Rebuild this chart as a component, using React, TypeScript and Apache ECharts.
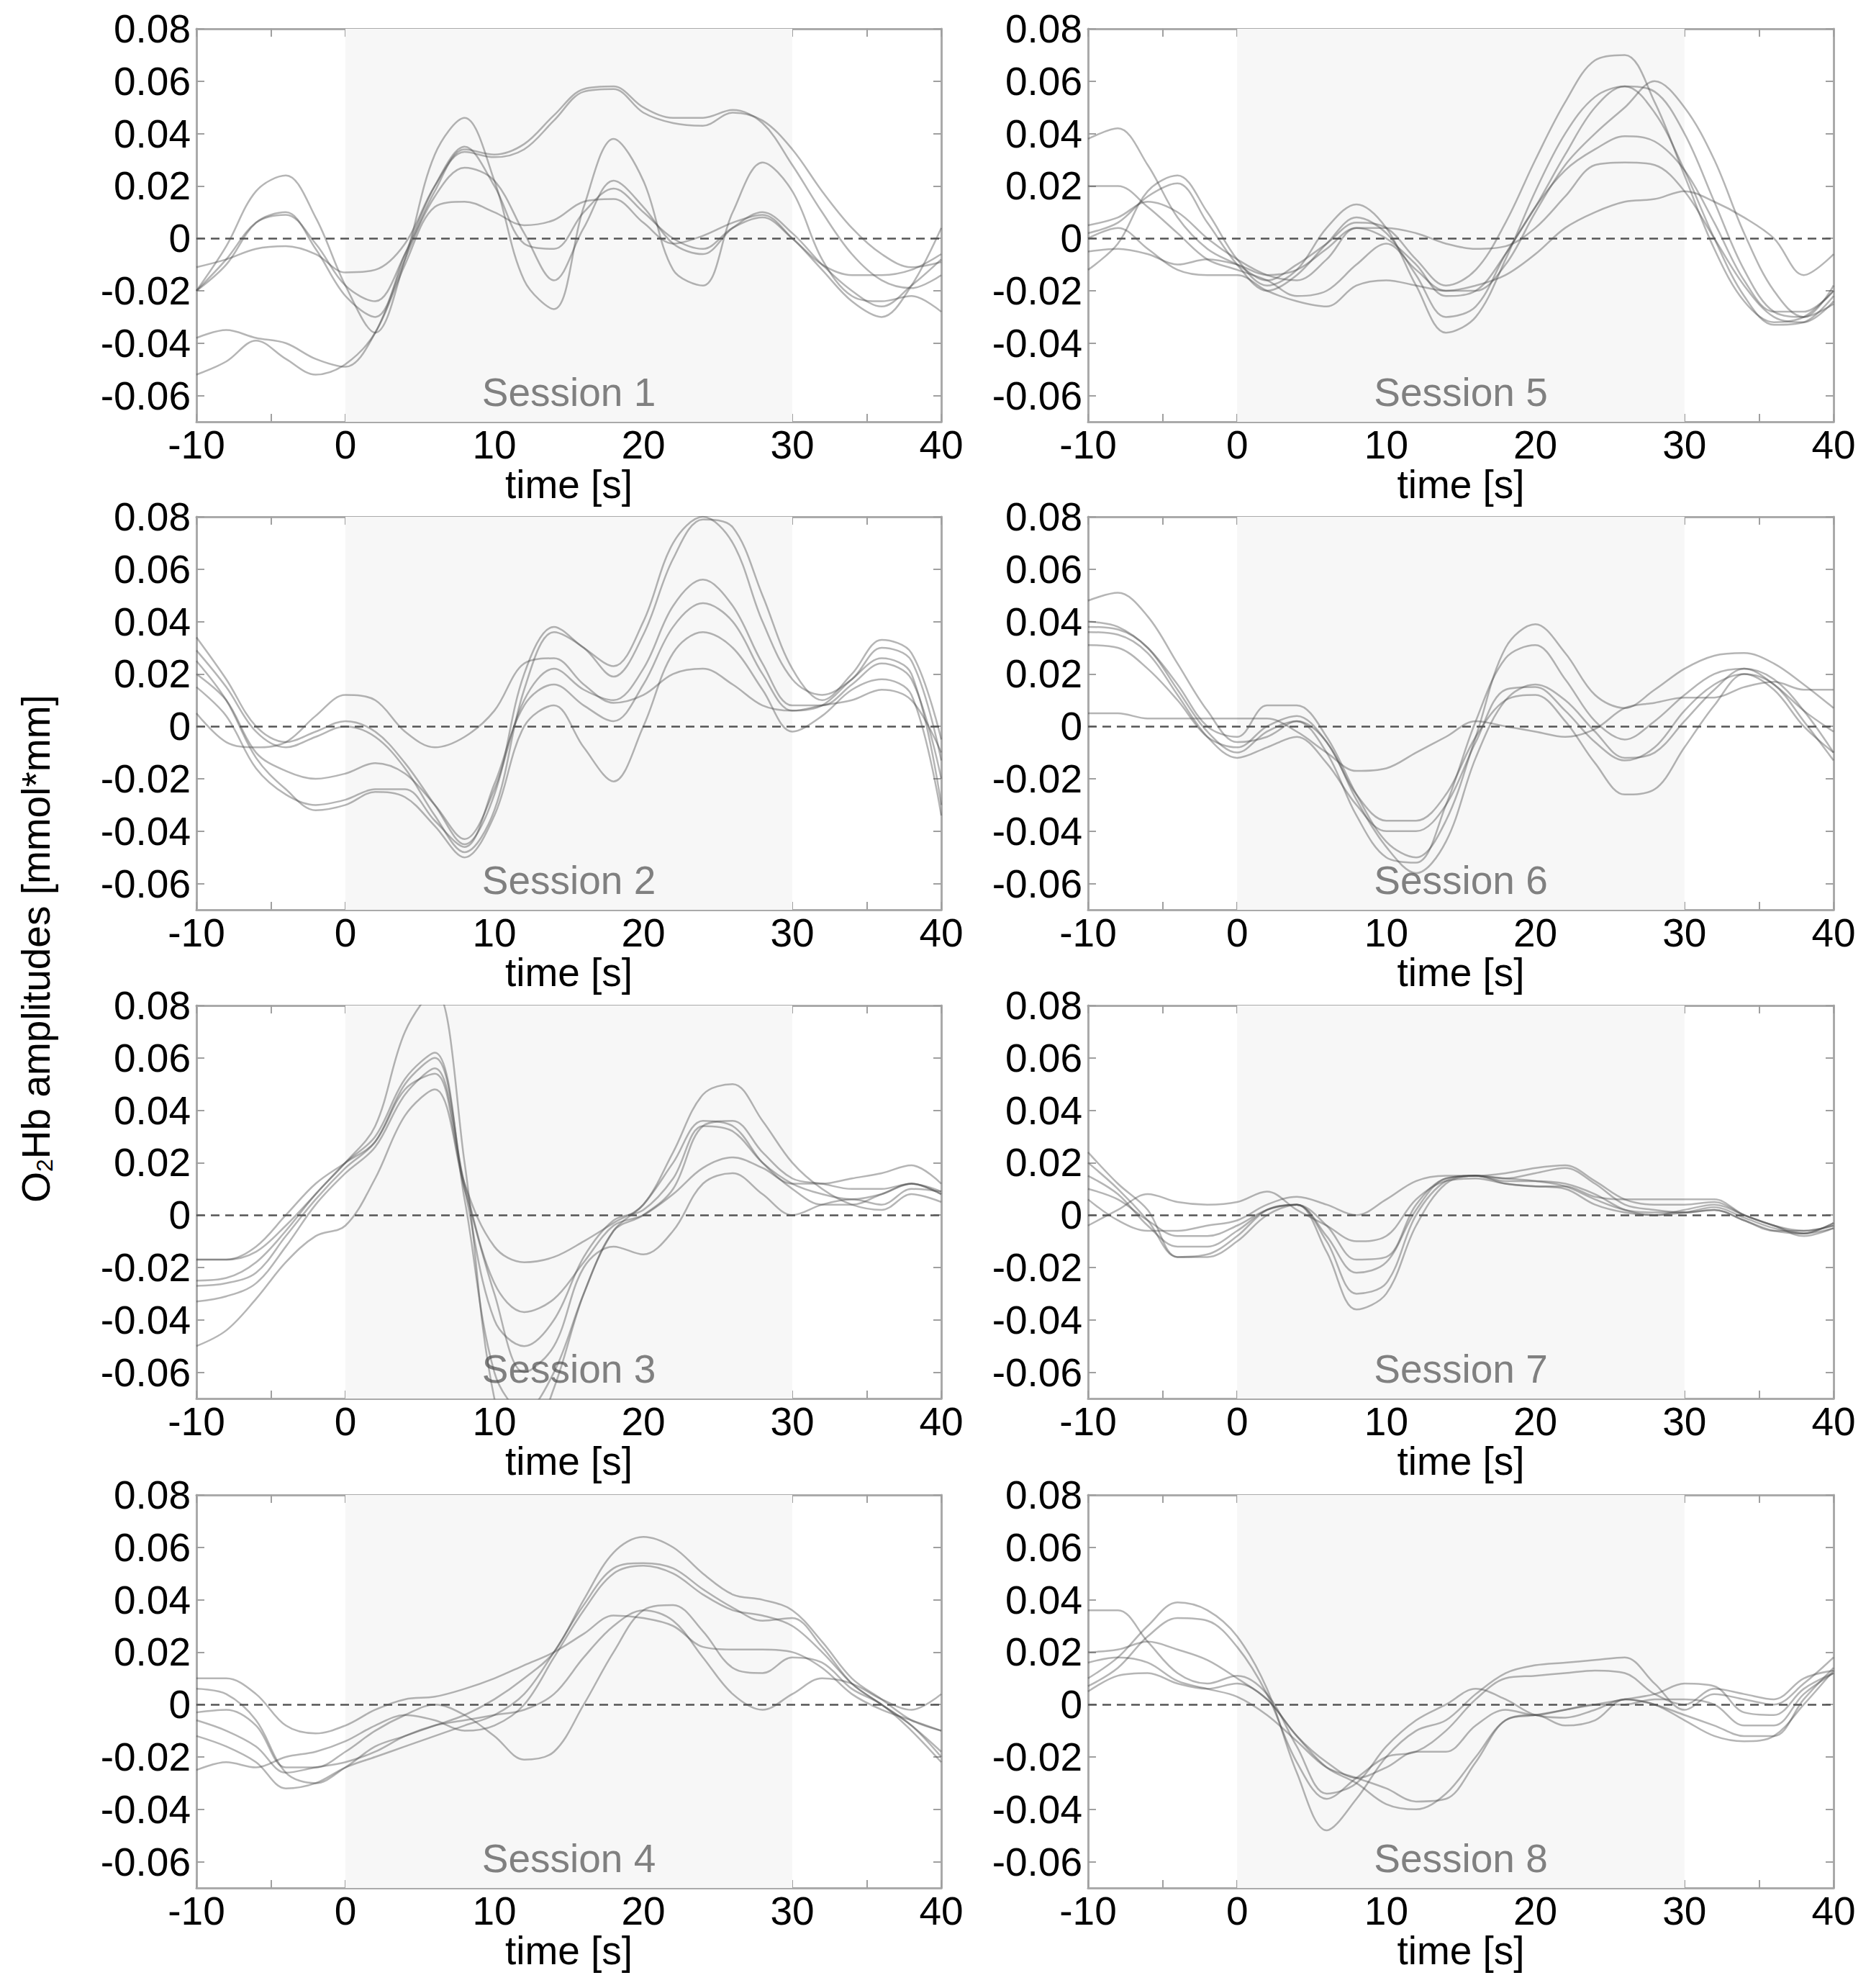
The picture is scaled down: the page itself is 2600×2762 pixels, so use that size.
import React, { useEffect, useRef } from "react";
import * as echarts from "echarts";

// ---------- data ----------
const TIME = [-10, -8, -6, -4, -2, 0, 2, 4, 6, 8, 10, 12, 14, 16, 18, 20, 22, 24, 26, 28, 30, 32, 34, 36, 38, 40];
const Y_TICKS = [-0.06, -0.04, -0.02, 0, 0.02, 0.04, 0.06, 0.08];
const X_MIN = -10;
const X_MAX = 40;
const Y_MIN = -0.07;
const Y_MAX = 0.08;
const STIMULUS = [0, 30];
const SESSION_LABELS = ["Session 1", "Session 2", "Session 3", "Session 4", "Session 5", "Session 6", "Session 7", "Session 8"];

const SESSION_1 = [
  [-0.011, -0.008, -0.004, -0.003, -0.006, -0.013, -0.012, -0.002, 0.020, 0.033, 0.031, 0.034, 0.045, 0.056, 0.057, 0.048, 0.044, 0.043, 0.048, 0.045, 0.034, 0.018, 0.004, -0.006, -0.011, -0.009],
  [-0.020, -0.008, 0.006, 0.009, -0.002, -0.018, -0.024, -0.006, 0.018, 0.034, 0.032, 0.036, 0.047, 0.057, 0.058, 0.050, 0.046, 0.046, 0.049, 0.044, 0.028, 0.010, -0.006, -0.016, -0.019, -0.014],
  [-0.020, -0.003, 0.018, 0.024, 0.008, -0.018, -0.036, -0.008, 0.032, 0.046, 0.022, -0.016, -0.027, 0.012, 0.038, 0.022, -0.012, -0.018, 0.010, 0.029, 0.018, -0.008, -0.022, -0.024, -0.022, -0.028],
  [-0.038, -0.035, -0.038, -0.040, -0.046, -0.049, -0.036, -0.008, 0.016, 0.027, 0.022, 0.002, -0.016, 0.004, 0.022, 0.012, -0.002, -0.006, 0.004, 0.010, 0.002, -0.010, -0.020, -0.026, -0.018, -0.008],
  [-0.052, -0.047, -0.039, -0.046, -0.052, -0.048, -0.036, -0.010, 0.012, 0.014, 0.010, 0.005, 0.007, 0.014, 0.015, 0.006, -0.002, 0.001, 0.006, 0.009, 0.000, -0.012, -0.024, -0.030, -0.018, 0.004],
  [-0.020, -0.010, 0.006, 0.010, -0.004, -0.022, -0.030, -0.006, 0.020, 0.035, 0.020, -0.002, -0.004, 0.010, 0.019, 0.010, 0.000, -0.004, 0.004, 0.008, 0.000, -0.010, -0.014, -0.014, -0.012, -0.006],
];

const SESSION_2 = [
  [0.034, 0.018, 0.000, -0.006, -0.002, 0.002, -0.002, -0.014, -0.030, -0.045, -0.026, 0.020, 0.038, 0.030, 0.023, 0.040, 0.070, 0.080, 0.070, 0.040, 0.018, 0.012, 0.018, 0.030, 0.025, -0.013],
  [0.029, 0.015, -0.002, -0.008, -0.004, 0.000, -0.004, -0.016, -0.034, -0.048, -0.032, 0.014, 0.036, 0.030, 0.019, 0.035, 0.064, 0.079, 0.076, 0.050, 0.022, 0.010, 0.020, 0.033, 0.028, -0.005],
  [0.020, 0.010, -0.010, -0.017, -0.020, -0.018, -0.014, -0.018, -0.030, -0.043, -0.024, 0.010, 0.022, 0.014, 0.010, 0.022, 0.046, 0.056, 0.046, 0.024, 0.008, 0.008, 0.016, 0.024, 0.018, -0.020],
  [0.015, 0.004, -0.016, -0.026, -0.030, -0.028, -0.024, -0.024, -0.036, -0.046, -0.022, 0.008, 0.016, 0.008, 0.002, 0.016, 0.038, 0.047, 0.040, 0.020, 0.006, 0.008, 0.018, 0.026, 0.020, -0.030],
  [0.025, 0.010, -0.012, -0.024, -0.032, -0.030, -0.025, -0.027, -0.038, -0.050, -0.034, 0.000, 0.008, -0.008, -0.021, 0.000, 0.028, 0.036, 0.030, 0.014, -0.002, 0.004, 0.014, 0.018, 0.012, -0.034],
  [0.005, -0.006, -0.008, -0.006, 0.004, 0.012, 0.010, -0.002, -0.008, -0.004, 0.006, 0.024, 0.026, 0.016, 0.009, 0.012, 0.020, 0.022, 0.016, 0.008, 0.006, 0.008, 0.010, 0.014, 0.010, -0.010],
];

const SESSION_3 = [
  [-0.025, -0.024, -0.018, -0.006, 0.008, 0.020, 0.034, 0.070, 0.086, 0.020, -0.070, -0.090, -0.066, -0.030, -0.006, 0.004, 0.020, 0.036, 0.034, 0.020, 0.010, 0.004, 0.004, 0.008, 0.012, 0.008],
  [-0.017, -0.017, -0.014, -0.004, 0.008, 0.020, 0.030, 0.052, 0.062, 0.006, -0.060, -0.075, -0.060, -0.030, -0.006, 0.000, 0.010, 0.034, 0.036, 0.024, 0.014, 0.012, 0.010, 0.010, 0.012, 0.009],
  [-0.027, -0.026, -0.022, -0.008, 0.006, 0.018, 0.028, 0.050, 0.060, 0.010, -0.040, -0.050, -0.040, -0.016, -0.002, 0.002, 0.014, 0.034, 0.032, 0.020, 0.012, 0.008, 0.006, 0.008, 0.012, 0.008],
  [-0.033, -0.031, -0.026, -0.012, 0.004, 0.016, 0.026, 0.046, 0.056, 0.012, -0.026, -0.037, -0.032, -0.018, -0.004, 0.000, 0.008, 0.018, 0.022, 0.018, 0.012, 0.012, 0.014, 0.016, 0.019, 0.012],
  [-0.017, -0.017, -0.012, 0.000, 0.012, 0.020, 0.028, 0.048, 0.054, 0.012, -0.012, -0.018, -0.016, -0.010, -0.003, 0.004, 0.024, 0.046, 0.050, 0.036, 0.020, 0.010, 0.004, 0.002, 0.008, 0.005],
  [-0.050, -0.044, -0.032, -0.018, -0.008, -0.004, 0.014, 0.038, 0.048, 0.010, -0.030, -0.060, -0.050, -0.020, -0.012, -0.015, -0.006, 0.012, 0.016, 0.008, 0.000, 0.004, 0.006, 0.004, 0.010, 0.009],
];

const SESSION_4 = [
  [0.006, 0.004, -0.006, -0.026, -0.030, -0.024, -0.016, -0.012, -0.008, -0.004, 0.002, 0.010, 0.020, 0.040, 0.058, 0.064, 0.060, 0.050, 0.042, 0.040, 0.036, 0.024, 0.010, 0.002, -0.006, -0.010],
  [0.010, 0.010, 0.004, -0.008, -0.011, -0.008, -0.002, 0.002, 0.003, 0.006, 0.010, 0.015, 0.020, 0.027, 0.034, 0.033, 0.030, 0.022, 0.021, 0.021, 0.020, 0.014, 0.004, -0.002, -0.006, -0.010],
  [-0.003, -0.002, -0.008, -0.024, -0.024, -0.018, -0.010, -0.004, 0.000, -0.004, -0.012, -0.021, -0.018, 0.000, 0.020, 0.036, 0.038, 0.028, 0.014, 0.012, 0.018, 0.016, 0.006, 0.000, -0.010, -0.022],
  [-0.006, -0.010, -0.016, -0.026, -0.024, -0.022, -0.018, -0.012, -0.008, -0.006, -0.004, -0.002, 0.004, 0.018, 0.030, 0.036, 0.032, 0.018, 0.004, -0.002, 0.004, 0.010, 0.008, 0.002, -0.002, 0.004],
  [-0.012, -0.016, -0.022, -0.032, -0.030, -0.024, -0.020, -0.016, -0.012, -0.008, -0.004, 0.004, 0.020, 0.038, 0.052, 0.054, 0.052, 0.044, 0.037, 0.032, 0.033, 0.022, 0.008, 0.000, -0.008, -0.020],
  [-0.025, -0.022, -0.024, -0.020, -0.018, -0.014, -0.008, -0.004, -0.006, -0.010, -0.008, 0.000, 0.018, 0.036, 0.050, 0.053, 0.050, 0.042, 0.036, 0.034, 0.030, 0.020, 0.008, 0.000, -0.008, -0.018],
];

const SESSION_5 = [
  [0.038, 0.042, 0.028, 0.008, -0.004, -0.010, -0.016, -0.010, -0.002, 0.006, 0.004, -0.008, -0.018, -0.012, 0.006, 0.030, 0.052, 0.068, 0.070, 0.052, 0.024, -0.004, -0.024, -0.032, -0.030, -0.020],
  [-0.012, -0.002, 0.018, 0.024, 0.010, -0.008, -0.018, -0.012, 0.004, 0.013, 0.004, -0.018, -0.036, -0.030, -0.008, 0.018, 0.040, 0.054, 0.058, 0.048, 0.026, 0.000, -0.022, -0.033, -0.032, -0.022],
  [0.002, 0.006, 0.016, 0.021, 0.006, -0.010, -0.020, -0.014, -0.002, 0.008, 0.002, -0.014, -0.030, -0.026, -0.006, 0.012, 0.032, 0.050, 0.058, 0.056, 0.040, 0.014, -0.012, -0.028, -0.030, -0.018],
  [0.020, 0.020, 0.012, 0.002, -0.008, -0.012, -0.016, -0.022, -0.020, -0.010, -0.002, -0.012, -0.020, -0.020, -0.010, 0.010, 0.028, 0.040, 0.050, 0.060, 0.050, 0.030, 0.002, -0.020, -0.030, -0.025],
  [0.005, 0.008, 0.014, 0.010, 0.000, -0.008, -0.014, -0.016, -0.008, 0.004, 0.000, -0.010, -0.022, -0.020, -0.006, 0.012, 0.026, 0.034, 0.039, 0.037, 0.026, 0.006, -0.016, -0.028, -0.028, -0.020],
  [-0.005, -0.004, -0.006, -0.010, -0.008, -0.010, -0.014, -0.012, -0.004, 0.004, 0.004, 0.002, -0.002, -0.004, -0.003, 0.004, 0.016, 0.028, 0.029, 0.028, 0.018, 0.000, -0.018, -0.030, -0.032, -0.024],
  [0.000, 0.004, -0.004, -0.012, -0.014, -0.014, -0.020, -0.024, -0.026, -0.018, -0.016, -0.018, -0.020, -0.018, -0.014, -0.006, 0.004, 0.010, 0.014, 0.015, 0.018, 0.014, 0.008, 0.000, -0.014, -0.006],
];

const SESSION_6 = [
  [0.048, 0.051, 0.042, 0.024, 0.006, -0.006, -0.004, 0.002, -0.010, -0.034, -0.050, -0.052, -0.030, 0.002, 0.026, 0.031, 0.018, 0.002, -0.005, 0.002, 0.012, 0.020, 0.022, 0.016, 0.006, -0.002],
  [0.040, 0.038, 0.030, 0.016, 0.000, -0.004, 0.008, 0.008, -0.004, -0.026, -0.044, -0.050, -0.036, -0.004, 0.030, 0.039, 0.028, 0.012, 0.007, 0.014, 0.022, 0.027, 0.028, 0.024, 0.016, 0.007],
  [0.038, 0.037, 0.030, 0.014, -0.002, -0.010, -0.002, 0.002, -0.006, -0.028, -0.046, -0.056, -0.044, -0.012, 0.010, 0.016, 0.010, -0.002, -0.012, -0.010, 0.002, 0.014, 0.022, 0.018, 0.006, -0.010],
  [0.036, 0.035, 0.028, 0.012, -0.004, -0.012, -0.008, -0.004, -0.014, -0.030, -0.040, -0.040, -0.030, -0.006, 0.014, 0.015, 0.006, -0.006, -0.013, -0.008, 0.006, 0.016, 0.020, 0.016, 0.002, -0.013],
  [0.031, 0.030, 0.022, 0.010, -0.004, -0.008, 0.000, 0.004, -0.006, -0.026, -0.036, -0.036, -0.026, -0.004, 0.010, 0.012, 0.002, -0.014, -0.026, -0.024, -0.008, 0.008, 0.020, 0.014, 0.000, -0.010],
  [0.005, 0.005, 0.003, 0.003, 0.003, 0.003, 0.003, -0.002, -0.010, -0.017, -0.016, -0.010, -0.004, 0.002, 0.000, -0.002, -0.004, -0.001, 0.007, 0.009, 0.011, 0.011, 0.015, 0.017, 0.014, 0.014],
];

const SESSION_7 = [
  [0.024, 0.012, 0.002, -0.016, -0.015, -0.008, 0.002, 0.004, -0.014, -0.036, -0.030, -0.004, 0.012, 0.015, 0.014, 0.013, 0.011, 0.006, 0.002, 0.001, 0.001, 0.002, -0.002, -0.006, -0.006, -0.004],
  [0.020, 0.010, -0.002, -0.016, -0.016, -0.010, 0.000, 0.004, -0.010, -0.030, -0.026, 0.000, 0.013, 0.015, 0.013, 0.013, 0.012, 0.008, 0.002, 0.000, 0.001, 0.003, -0.001, -0.005, -0.007, -0.005],
  [0.015, 0.008, -0.004, -0.012, -0.012, -0.006, 0.002, 0.004, -0.008, -0.022, -0.018, 0.002, 0.014, 0.015, 0.014, 0.016, 0.018, 0.012, 0.004, 0.002, 0.001, 0.002, -0.002, -0.006, -0.007, -0.003],
  [0.010, 0.006, -0.002, -0.008, -0.008, -0.004, 0.002, 0.004, -0.004, -0.017, -0.016, 0.004, 0.014, 0.015, 0.012, 0.011, 0.010, 0.004, 0.001, 0.000, 0.002, 0.004, 0.000, -0.004, -0.006, -0.004],
  [-0.004, 0.002, 0.008, 0.005, 0.004, 0.005, 0.009, 0.002, -0.004, -0.010, -0.008, 0.006, 0.013, 0.014, 0.012, 0.011, 0.011, 0.007, 0.006, 0.006, 0.006, 0.006, 0.000, -0.004, -0.007, -0.003],
  [0.006, -0.002, -0.006, -0.006, -0.004, -0.002, 0.004, 0.007, 0.004, 0.000, 0.006, 0.013, 0.015, 0.015, 0.016, 0.018, 0.019, 0.013, 0.006, 0.004, 0.004, 0.005, 0.000, -0.004, -0.008, -0.005],
];

const SESSION_8 = [
  [0.036, 0.036, 0.024, 0.012, 0.008, 0.011, 0.004, -0.016, -0.034, -0.030, -0.016, -0.006, 0.000, 0.006, 0.002, -0.004, -0.005, -0.002, 0.002, 0.000, -0.004, -0.008, -0.012, -0.012, 0.002, 0.014],
  [0.010, 0.018, 0.030, 0.039, 0.036, 0.026, 0.006, -0.026, -0.048, -0.036, -0.020, -0.010, -0.006, 0.004, 0.012, 0.015, 0.016, 0.017, 0.018, 0.008, -0.002, 0.004, 0.002, 0.000, 0.008, 0.018],
  [0.007, 0.014, 0.026, 0.033, 0.032, 0.022, 0.004, -0.022, -0.036, -0.028, -0.020, -0.018, -0.010, 0.002, 0.010, 0.011, 0.012, 0.013, 0.012, 0.004, 0.000, 0.006, 0.004, 0.002, 0.010, 0.013],
  [0.020, 0.021, 0.024, 0.021, 0.017, 0.010, 0.002, -0.012, -0.024, -0.030, -0.038, -0.040, -0.034, -0.020, -0.006, -0.004, -0.002, 0.000, 0.002, 0.004, 0.008, 0.007, -0.003, -0.004, 0.006, 0.012],
  [0.016, 0.018, 0.016, 0.009, 0.006, 0.003, -0.004, -0.014, -0.024, -0.028, -0.032, -0.037, -0.036, -0.022, -0.006, -0.004, -0.008, -0.006, 0.002, 0.000, -0.006, -0.012, -0.014, -0.012, 0.000, 0.013],
  [0.005, 0.011, 0.012, 0.008, 0.006, 0.008, 0.002, -0.012, -0.022, -0.028, -0.024, -0.018, -0.018, -0.008, -0.002, -0.004, -0.002, 0.000, 0.000, 0.002, 0.002, 0.000, -0.008, -0.008, 0.004, 0.012],
];

const SESSIONS = [SESSION_1, SESSION_2, SESSION_3, SESSION_4, SESSION_5, SESSION_6, SESSION_7, SESSION_8];

// ---------- layout / style ----------
const CHART_W = 2600;
const CHART_H = 2762;
const COL_LEFT = [273, 1512];
const COL_WIDTH = [1035, 1036];
const ROW_TOP = [40, 718, 1397, 2077];
const GRID_H = 546;
const FONT = '"Liberation Sans", Arial, Helvetica, sans-serif';
const FONT_SIZE = 55;
const FRAME = "#aaaaaa";
const LINE_COLOR = "rgba(70,70,70,0.40)";

function buildOption() {
  const grid: any[] = [];
  const xAxis: any[] = [];
  const yAxis: any[] = [];
  const series: any[] = [];
  const graphic: any[] = [];

  const axisLine = { show: true, onZero: false, lineStyle: { color: FRAME, width: 3 } };
  const tick = { show: true, inside: true, length: 11, lineStyle: { color: "#a0a0a0", width: 2 } };
  const labelStyle = { color: "#000", fontSize: FONT_SIZE, fontFamily: FONT };

  SESSIONS.forEach((lines, i) => {
    const col = Math.floor(i / 4);
    const row = i % 4;
    const left = COL_LEFT[col];
    const width = COL_WIDTH[col];
    const top = ROW_TOP[row];
    grid.push({ left, top, width, height: GRID_H, containLabel: false });

    xAxis.push({
      gridIndex: i,
      type: "value",
      min: X_MIN,
      max: X_MAX,
      interval: 5,
      position: "bottom",
      axisLine,
      axisTick: tick,
      splitLine: { show: false },
      axisLabel: {
        ...labelStyle,
        margin: 4,
        formatter: (v: number) => (v % 10 === 0 ? String(v) : ""),
      },
      name: "time [s]",
      nameLocation: "middle",
      nameGap: 45,
      nameTextStyle: { ...labelStyle },
    });
    xAxis.push({
      gridIndex: i,
      type: "value",
      min: X_MIN,
      max: X_MAX,
      interval: 5,
      position: "top",
      axisLine,
      axisTick: tick,
      splitLine: { show: false },
      axisLabel: { show: false },
    });
    yAxis.push({
      gridIndex: i,
      type: "value",
      min: Y_MIN,
      max: Y_MAX,
      position: "left",
      axisLine,
      axisTick: { ...tick, customValues: Y_TICKS },
      splitLine: { show: false },
      axisLabel: {
        ...labelStyle,
        margin: 8,
        customValues: Y_TICKS,
        formatter: (v: number) => (Math.abs(v) < 1e-9 ? "0" : v.toFixed(2)),
      },
    });
    yAxis.push({
      gridIndex: i,
      type: "value",
      min: Y_MIN,
      max: Y_MAX,
      position: "right",
      axisLine,
      axisTick: { ...tick, customValues: Y_TICKS },
      splitLine: { show: false },
      axisLabel: { show: false, customValues: Y_TICKS },
    });

    const xi = 2 * i;
    const yi = 2 * i;

    // stimulus shading and zero reference line
    series.push({
      type: "line",
      xAxisIndex: xi,
      yAxisIndex: yi,
      data: [],
      silent: true,
      z: 1,
      markArea: {
        silent: true,
        z: 1,
        itemStyle: { color: "#f7f7f7" },
        data: [[{ xAxis: STIMULUS[0] }, { xAxis: STIMULUS[1] }]],
      },
      markLine: {
        silent: true,
        z: 5,
        symbol: "none",
        label: { show: false },
        lineStyle: { type: [12, 8], color: "#555", width: 2.5 },
        data: [{ yAxis: 0 }],
      },
    });

    lines.forEach((vals) => {
      series.push({
        type: "line",
        xAxisIndex: xi,
        yAxisIndex: yi,
        data: TIME.map((t, k) => [t, vals[k]]),
        smooth: 0.35,
        showSymbol: false,
        symbol: "none",
        silent: true,
        z: 3,
        lineStyle: { color: LINE_COLOR, width: 2.5 },
      });
    });

    graphic.push({
      type: "text",
      x: left + width / 2,
      y: top + GRID_H - 41,
      z: 2,
      silent: true,
      style: {
        text: SESSION_LABELS[i],
        fill: "#808080",
        fontSize: FONT_SIZE,
        fontFamily: FONT,
        align: "center",
        verticalAlign: "middle",
        textAlign: "center",
        textVerticalAlign: "middle",
      },
    });
  });

  graphic.push({
    type: "text",
    x: 50,
    y: 1318,
    rotation: Math.PI / 2,
    silent: true,
    style: {
      text: "O{sub|2}Hb amplitudes [mmol*mm]",
      fill: "#000",
      fontSize: FONT_SIZE,
      fontFamily: FONT,
      align: "center",
      verticalAlign: "middle",
      textAlign: "center",
      textVerticalAlign: "middle",
      rich: {
        sub: { fontSize: 32, lineHeight: 24, fontFamily: FONT, fill: "#000", verticalAlign: "bottom" },
      },
    },
  });

  return {
    animation: false,
    backgroundColor: "#ffffff",
    grid,
    xAxis,
    yAxis,
    series,
    graphic,
  };
}

export default function App() {
  const ref = useRef<HTMLDivElement>(null);
  useEffect(() => {
    if (!ref.current) return;
    const chart = echarts.init(ref.current, null, { renderer: "svg" });
    chart.setOption(buildOption() as any);
    return () => chart.dispose();
  }, []);
  return (
    <div
      ref={ref}
      style={{ position: "absolute", left: 0, top: 0, width: CHART_W, height: CHART_H, background: "#fff" }}
    />
  );
}
